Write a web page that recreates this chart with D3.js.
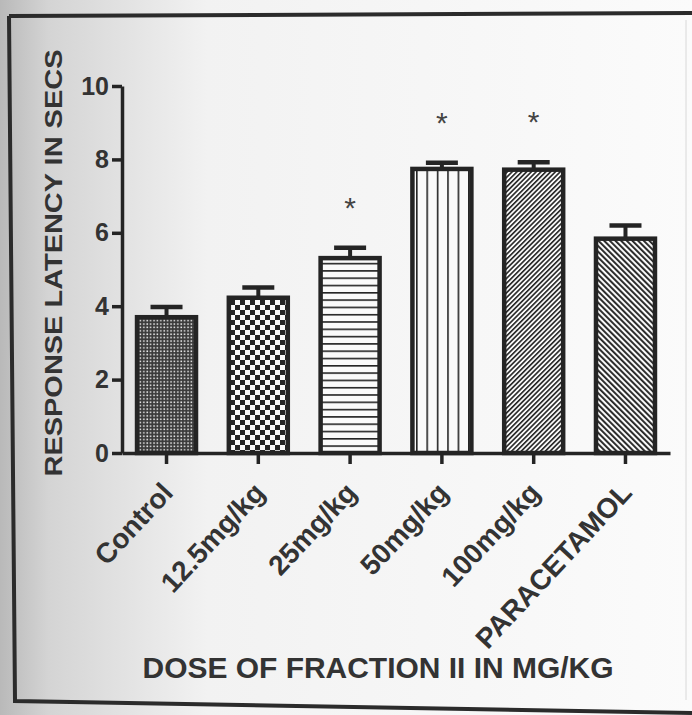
<!DOCTYPE html>
<html>
<head>
<meta charset="utf-8">
<script src="https://cdn.jsdelivr.net/npm/d3@7"></script>
<style>
  html, body { margin: 0; padding: 0; background: #fff; }
  svg { display: block; }
</style>
</head>
<body>
<div id="chart"></div>
<script>
// ---- data ----
const categories = ["Control", "12.5mg/kg", "25mg/kg", "50mg/kg", "100mg/kg", "PARACETAMOL"];
const means = [3.7, 4.23, 5.31, 7.74, 7.72, 5.84];
const sems = [0.28, 0.28, 0.28, 0.17, 0.2, 0.36];
const significant = [false, false, true, true, true, false];
const patterns = ["fine", "checker", "horiz", "vert", "diagUp", "diagDown"];
const yTicks = [0, 2, 4, 6, 8, 10];
const yTitle = "RESPONSE LATENCY IN SECS";
const xTitle = "DOSE OF FRACTION II IN MG/KG";

const W = 692, H = 715;
const svg = d3.select("#chart").append("svg").attr("width", W).attr("height", H);
const defs = svg.append("defs");

// page shading
const grad = defs.append("linearGradient").attr("id", "bg").attr("x1", 0).attr("x2", 1).attr("y1", 0).attr("y2", 0);
grad.append("stop").attr("offset", "0").attr("stop-color", "#b9b9b9");
grad.append("stop").attr("offset", "0.07").attr("stop-color", "#d4d4d4");
grad.append("stop").attr("offset", "0.3").attr("stop-color", "#f2f2f2");
grad.append("stop").attr("offset", "1").attr("stop-color", "#fbfbfb");
svg.append("rect").attr("width", W).attr("height", H).attr("fill", "url(#bg)");

// frame
svg.append("path")
  .attr("d", "M9,16 L692,13 M9,16 L15,701 L692,713")
  .attr("fill", "none").attr("stroke", "#2b2b2b").attr("stroke-width", 4);
svg.append("line").attr("x1", 686).attr("x2", 686).attr("y1", 20).attr("y2", 700)
  .attr("stroke", "#d8d8d8").attr("stroke-width", 1);

const ink = "#242424";
// patterns
function pat(id, w, h, rot) {
  const p = defs.append("pattern").attr("id", id).attr("patternUnits", "userSpaceOnUse")
    .attr("width", w).attr("height", h);
  if (rot) p.attr("patternTransform", `rotate(${rot})`);
  p.append("rect").attr("width", w).attr("height", h).attr("fill", "#fafafa");
  return p;
}
{
  const p = pat("fine", 3.4, 3.4);
  p.append("rect").attr("width", 3.4).attr("height", 3.4).attr("fill", "#3a3a3a");
  p.append("rect").attr("x", 0.3).attr("y", 0.3).attr("width", 1.5).attr("height", 1.5).attr("fill", "#f4f4f4");
}
{
  const p = pat("checker", 10, 10);
  p.append("rect").attr("width", 5).attr("height", 5).attr("fill", ink);
  p.append("rect").attr("x", 5).attr("y", 5).attr("width", 5).attr("height", 5).attr("fill", ink);
}
{
  const p = pat("horiz", 10, 7.3);
  p.append("rect").attr("y", 0).attr("width", 10).attr("height", 1.6).attr("fill", ink);
}
{
  const p = pat("vert", 10.4, 10);
  p.append("rect").attr("x", 0).attr("width", 1.6).attr("height", 10).attr("fill", ink);
}
{
  const p = pat("diagUp", 3.4, 10, 45);
  p.append("rect").attr("width", 1.6).attr("height", 10).attr("fill", ink);
}
{
  const p = pat("diagDown", 4.0, 10, -45);
  p.append("rect").attr("width", 1.9).attr("height", 10).attr("fill", ink);
}

// scales
const x = d3.scaleBand().domain(categories).range([122, 670]).paddingInner(0.314).paddingOuter(0.142);
const y = d3.scaleLinear().domain([0, 10]).range([453, 86]);

const font = "'Liberation Sans', Arial, sans-serif";
const txt = "#333";

// bars
const g = svg.append("g");
const data = categories.map((c, i) => ({ c, m: means[i], e: sems[i], s: significant[i], p: patterns[i] }));

// error bars (behind bars)
g.selectAll(".err").data(data).join("line")
  .attr("x1", d => x(d.c) + x.bandwidth() / 2).attr("x2", d => x(d.c) + x.bandwidth() / 2)
  .attr("y1", d => y(d.m)).attr("y2", d => y(d.m + d.e))
  .attr("stroke", ink).attr("stroke-width", 4);
g.selectAll(".cap").data(data).join("line")
  .attr("x1", d => x(d.c) + x.bandwidth() / 2 - 16).attr("x2", d => x(d.c) + x.bandwidth() / 2 + 16)
  .attr("y1", d => y(d.m + d.e)).attr("y2", d => y(d.m + d.e))
  .attr("stroke", ink).attr("stroke-width", 4.5);

g.selectAll(".bar").data(data).join("rect")
  .attr("x", d => x(d.c) + 2).attr("width", x.bandwidth() - 4)
  .attr("y", d => y(d.m)).attr("height", d => y(0) - y(d.m))
  .attr("fill", d => `url(#${d.p})`)
  .attr("stroke", ink).attr("stroke-width", 4.5);

// asterisks
g.selectAll(".star").data(data.filter(d => d.s)).join("text")
  .attr("x", d => x(d.c) + x.bandwidth() / 2)
  .attr("y", d => y(d.m + d.e) - 47 + 17)
  .attr("text-anchor", "middle")
  .attr("font-family", font).attr("font-size", 30).attr("fill", "#444")
  .text("*");

// y axis
const yAxis = svg.append("g").attr("transform", "translate(122,0)")
  .call(d3.axisLeft(y).tickValues(yTicks).tickSize(10).tickPadding(3).tickSizeOuter(0));
yAxis.select(".domain").attr("stroke", ink).attr("stroke-width", 3.5);
yAxis.selectAll(".tick line").attr("stroke", ink).attr("stroke-width", 3.5);
yAxis.selectAll(".tick text").attr("font-family", font).attr("font-size", 25)
  .attr("font-weight", "bold").attr("fill", txt);

// x axis
const xAxis = svg.append("g").attr("transform", "translate(0,453)")
  .call(d3.axisBottom(x).tickSize(11).tickSizeOuter(0));
xAxis.select(".domain").attr("stroke", ink).attr("stroke-width", 3.5);
xAxis.selectAll(".tick line").attr("stroke", ink).attr("stroke-width", 3.5);
xAxis.selectAll(".tick text")
  .attr("font-family", font).attr("font-size", 28).attr("font-weight", "bold").attr("fill", txt)
  .attr("text-anchor", "end")
  .attr("dy", 0).attr("y", 0)
  .attr("transform", "translate(8,41) rotate(-47)");

// titles
svg.append("text")
  .attr("transform", "translate(62,263) rotate(-90)")
  .attr("text-anchor", "middle")
  .attr("font-family", font).attr("font-size", 24).attr("font-weight", "bold").attr("fill", txt)
  .attr("textLength", 427).attr("lengthAdjust", "spacingAndGlyphs")
  .text(yTitle);

svg.append("text")
  .attr("x", 378).attr("y", 678)
  .attr("text-anchor", "middle")
  .attr("font-family", font).attr("font-size", 29).attr("font-weight", "bold").attr("fill", txt)
  .attr("textLength", 471).attr("lengthAdjust", "spacingAndGlyphs")
  .text(xTitle);
</script>
</body>
</html>
